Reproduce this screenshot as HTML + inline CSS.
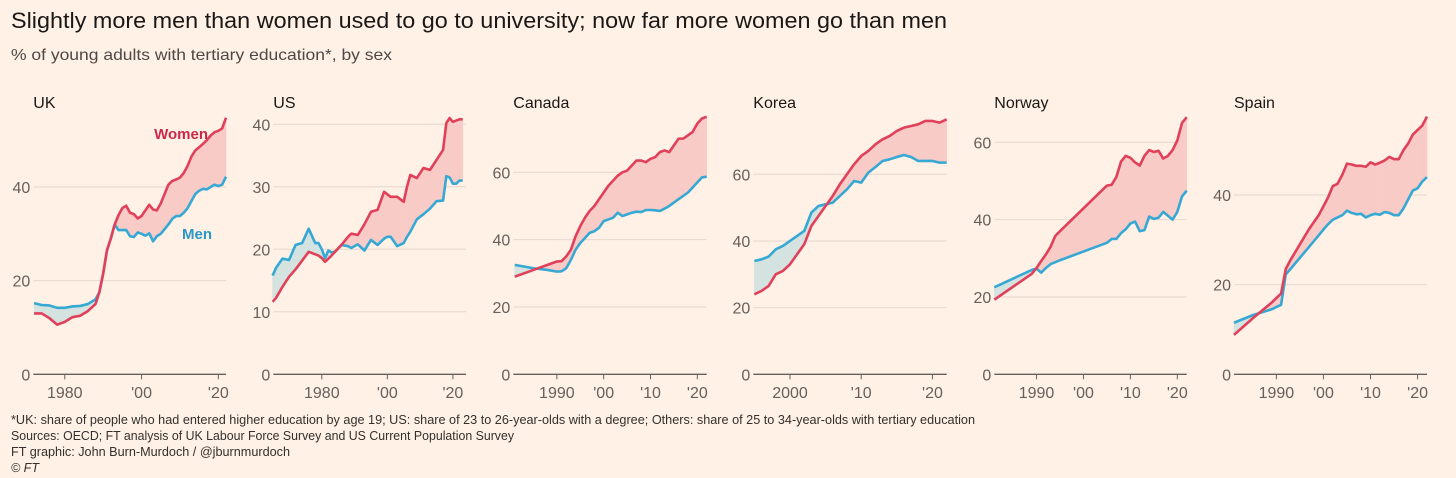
<!DOCTYPE html>
<html><head><meta charset="utf-8"><style>
html,body{margin:0;padding:0;background:#fff1e5;}
svg{display:block;font-family:"Liberation Sans",sans-serif;}
</style></head><body>
<svg id="chart" width="1456" height="478" viewBox="0 0 1456 478" xmlns="http://www.w3.org/2000/svg">
<rect width="1456" height="478" fill="#fff1e5"/>
<text x="11" y="28" font-size="22" fill="#1a1817" textLength="936" lengthAdjust="spacingAndGlyphs">Slightly more men than women used to go to university; now far more women go than men</text>
<text x="11" y="60" font-size="16" fill="#4d4845" textLength="381" lengthAdjust="spacingAndGlyphs">% of young adults with tertiary education*, by sex</text>
<g id="panels"></g>
<g font-size="12.5" fill="#33302e">
<text x="11" y="424" textLength="964" lengthAdjust="spacingAndGlyphs">*UK: share of people who had entered higher education by age 19; US: share of 23 to 26-year-olds with a degree; Others: share of 25 to 34-year-olds with tertiary education</text>
<text x="11" y="440" textLength="503" lengthAdjust="spacingAndGlyphs">Sources: OECD; FT analysis of UK Labour Force Survey and US Current Population Survey</text>
<text x="11" y="456" textLength="279" lengthAdjust="spacingAndGlyphs">FT graphic: John Burn-Murdoch / @jburnmurdoch</text>
<text x="11" y="472" font-style="italic">© FT</text>
</g>
</svg>
<script>
// ---- data ----
const ukYears = [1972,1974,1976,1978,1980,1982,1984,1986,1988,1989,1990,1991,1992,1993,1994,1995,1996,1997,1998,1999,2000,2001,2002,2003,2004,2005,2006,2007,2008,2009,2010,2011,2012,2013,2014,2015,2016,2017,2018,2019,2020,2021,2022];
const ukWomen = [13,13,12,10.6,11.2,12.2,12.5,13.5,15,17.5,21.5,26.5,29,32,34,35.5,36,34.5,34.2,33.3,33.8,35,36.2,35.2,35,36.5,38.5,40.5,41.3,41.6,42,43,44.5,46.5,47.8,48.5,49.2,50,51,51.7,52,52.5,54.8];
const ukMen = [15.2,14.8,14.7,14.2,14.2,14.5,14.6,15,16,17.5,21.5,26.5,29,32,30.8,30.8,30.8,29.5,29.3,30.3,30,29.6,30.1,28.4,29.5,30,31,32,33.2,33.8,33.8,34.5,35.5,37,38.5,39.2,39.6,39.5,40,40.5,40.2,40.5,42.2];

const usYears = [1965,1966,1968,1970,1972,1974,1976,1978,1979,1980,1981,1982,1983,1984,1986,1988,1989,1991,1993,1995,1997,1999,2000,2001,2003,2005,2006,2007,2009,2011,2013,2015,2017,2018,2019,2020,2021,2022,2023];
const usWomen = [11.6,12.2,14,15.6,16.8,18.2,19.6,19.2,19,18.6,18,18.5,19,19.6,20.7,22,22.5,22.3,24,26,26.3,29.2,28.8,28.4,28.4,27.6,30,31.9,31.4,33,32.7,34.3,35.9,40.2,41,40.4,40.6,40.8,40.8];
const usMen = [15.8,17,18.5,18.3,20.7,21,23.3,21,21,20,18.6,19.8,19.5,19.6,20.7,20.5,20.2,20.8,19.8,21.5,20.7,21.7,22,22,20.5,21,22,22.8,24.8,25.6,26.5,27.7,27.8,31.7,31.5,30.5,30.5,31,31];

const caYears = [1981,1985,1988,1990,1991,1992,1993,1994,1995,1996,1997,1998,1999,2000,2001,2002,2003,2004,2005,2006,2007,2008,2009,2010,2011,2012,2013,2014,2015,2016,2017,2018,2019,2020,2021,2022];
const caWomen = [29,31,32.5,33.5,33.6,35,37,41,44,46.5,48.5,50,52,54,56,57.5,59,60,60.5,62,63.5,63.5,63,64,64.5,66,66.5,66,68,70,70,71,72,74.5,76,76.5];
const caMen = [32.5,31.5,31,30.5,30.6,31.5,34,37,39,40.5,42,42.5,43.5,45.5,46,46.5,48,47,47.5,48,48.3,48.2,48.8,48.8,48.7,48.5,49.2,50,51,52,53,54,55.5,57,58.5,58.7];

const krYears = [1995,1996,1997,1998,1999,2000,2001,2002,2003,2004,2005,2006,2007,2008,2009,2010,2011,2012,2013,2014,2015,2016,2017,2018,2019,2020,2021,2022];
const krWomen = [24,25,26.5,30,31,33,36,39,44.5,47.5,50.5,53.5,57,60,63,65.5,67,69,70.5,71.5,73,74,74.5,75,76,76,75.5,76.5];
const krMen = [34,34.5,35.3,37.5,38.5,40,41.5,43,48.5,50.5,51,51.5,53.5,55.5,58,57.5,60.5,62.2,64,64.5,65.2,65.8,65.2,64,64,64,63.5,63.5];

const noYears = [1981,1989,1990,1991,1992,1993,1994,1995,2005,2006,2007,2008,2009,2010,2011,2012,2013,2014,2015,2016,2017,2018,2019,2020,2021,2022];
const noWomen = [19.3,26,27.5,29.3,31,33,35.8,37,48.8,49,51,55,56.5,56,54.8,54,56.5,58,57.5,57.8,55.8,56.5,58,60.5,65,66.5];
const noMen = [22.5,27,27.3,26.3,27.5,28.5,29,29.5,34,35,35,36.5,37.5,39,39.5,37,37.3,40.8,40.2,40.5,42,41,40,42,46,47.5];

const esYears = [1981,1985,1989,1991,1992,1993,1995,1997,1999,2000,2001,2002,2003,2004,2005,2006,2007,2008,2009,2010,2011,2012,2013,2014,2015,2016,2017,2018,2019,2020,2021,2022];
const esWomen = [8.8,12.5,16,18,23.5,25.5,29,32.5,35.5,37.5,39.5,42,42.5,44.5,47,46.8,46.5,46.5,46.3,47.3,46.8,47.2,47.7,48.5,48,48,50,51.5,53.5,54.5,55.5,57.5];
const esMen = [11.5,13.2,14.5,15.5,22.3,23.5,26,28.5,31,32.3,33.5,34.5,35,35.5,36.5,36,35.7,35.8,35,35.5,35.8,35.6,36.2,36,35.5,35.5,37,39,41,41.5,43,44];

const ukTicks = [0,20,40], usTicks = [0,10,20,30,40], caTicks = [0,20,40,60], krTicks = [0,20,40,60], noTicks = [0,20,40,60], esTicks = [0,20,40];
const ukXTicks = [1980,2000,2020], usXTicks = [1980,2000,2020], caXTicks = [1990,2000,2010,2020], krXTicks = [2000,2010,2020], noXTicks = [1990,2000,2010,2020], esXTicks = [1990,2000,2010,2020];
const xTickLabels = {1980:"1980",1990:"1990",2000:"'00",2010:"'10",2020:"'20"};
const krXLabels = {2000:"2000",2010:"'10",2020:"'20"};

const panels = [
 {name:"uk",title:"UK",years:ukYears,w:ukWomen,m:ukMen,yt:ukTicks,xt:ukXTicks,left:33.3,right:226,x0:1971.8,x1:2022,labels:true},
 {name:"us",title:"US",years:usYears,w:usWomen,m:usMen,yt:usTicks,xt:usXTicks,left:273.3,right:466,x0:1965.2,x1:2024},
 {name:"canada",title:"Canada",years:caYears,w:caWomen,m:caMen,yt:caTicks,xt:caXTicks,left:513.3,right:706.7,x0:1980.7,x1:2022},
 {name:"korea",title:"Korea",years:krYears,w:krWomen,m:krMen,yt:krTicks,xt:krXTicks,left:753.3,right:946.7,x0:1994.85,x1:2022,xl:krXLabels},
 {name:"norway",title:"Norway",years:noYears,w:noWomen,m:noMen,yt:noTicks,xt:noXTicks,left:994.3,right:1186.7,x0:1981,x1:2022},
 {name:"spain",title:"Spain",years:esYears,w:esWomen,m:esMen,yt:esTicks,xt:esXTicks,left:1234,right:1427,x0:1981,x1:2022}
];
const topGrid = {uk:[40,187],us:[40,124.3],canada:[60,172.3],korea:[60,174.3],norway:[60,142.3],spain:[40,195]};

const NS="http://www.w3.org/2000/svg";
const root=document.getElementById('panels');
function mk(tag,attrs,parent){const e=document.createElementNS(NS,tag);for(const k in attrs)e.setAttribute(k,attrs[k]);parent.appendChild(e);return e;}
const BASE=374.3;

panels.forEach(p=>{
  const g=mk('g',{},root);
  
  
  const tg=topGrid[p.name];
  const ppu=(BASE-tg[1])/tg[0];
  const X=yr=>p.left+(yr-p.x0)/(p.x1-p.x0)*(p.right-p.left);
  const Y=v=>BASE-v*ppu;
  const t=mk('text',{x:p.left,y:108,'font-size':16,fill:'#1a1817'},g); t.textContent=p.title;
  
  
  p.yt.forEach(v=>{
    if(v>0){const l=mk('line',{x1:p.left,x2:p.right,y1:Y(v),y2:Y(v),stroke:'#e6d8cc','stroke-width':1},g);
      
      }
    const tx=mk('text',{x:p.left-3,y:Y(v)+6,'font-size':16,fill:'#66605c','text-anchor':'end'},g); tx.textContent=v;
    
    
  });
  const ys=p.years, w=p.w, m=p.m;
  for(let i=0;i<ys.length-1;i++){
    const d0=w[i]-m[i], d1=w[i+1]-m[i+1];
    const segs=[];
    if(d0*d1<0){
      const f=d0/(d0-d1); const yr=ys[i]+f*(ys[i+1]-ys[i]); const v=w[i]+f*(w[i+1]-w[i]);
      segs.push([[ys[i],w[i],m[i]],[yr,v,v],d0]); segs.push([[yr,v,v],[ys[i+1],w[i+1],m[i+1]],d1]);
    } else segs.push([[ys[i],w[i],m[i]],[ys[i+1],w[i+1],m[i+1]],d0+d1]);
    segs.forEach(s=>{
      if(s[2]===0) return;
      const a=s[0],b=s[1];
      const pts=[[X(a[0]),Y(a[1])],[X(b[0]),Y(b[1])],[X(b[0]),Y(b[2])],[X(a[0]),Y(a[2])]].map(q=>q.join(',')).join(' ');
      const pg=mk('polygon',{points:pts,fill:s[2]>0?'#f9cbc6':'#d4e3df',stroke:s[2]>0?'#f9cbc6':'#d4e3df','stroke-width':0.6},g);
      
      
    });
  }
  const bl=mk('line',{x1:p.left,x2:p.right,y1:BASE,y2:BASE,stroke:'#66605c','stroke-width':1.3},g);
  
  
  p.xt.forEach(yr=>{
    const tk=mk('line',{x1:X(yr),x2:X(yr),y1:BASE,y2:BASE+5,stroke:'#66605c','stroke-width':1},g);
    
    
    const lb=mk('text',{x:X(yr),y:398,'font-size':16,fill:'#66605c','text-anchor':'middle'},g);
    lb.textContent=(p.xl||xTickLabels)[yr];
    
    
  });
  const line=(vals,col,nm)=>{
    const d=ys.map((yr,i)=>(i?'L':'M')+X(yr).toFixed(2)+','+Y(vals[i]).toFixed(2)).join('');
    const pa=mk('path',{d:d,fill:'none',stroke:col,'stroke-width':2.6,'stroke-linejoin':'round'},g);
    
    
  };
  line(m,'#36a8d4','-men-line');
  line(w,'#e1405a','-women-line');
  if(p.labels){
    const lw=mk('text',{x:208,y:139,'font-size':15,'font-weight':'bold',fill:'#cc2848','text-anchor':'end'},g); lw.textContent='Women';
    
    
    const lm=mk('text',{x:212,y:239,'font-size':15,'font-weight':'bold',fill:'#2b97c6','text-anchor':'end'},g); lm.textContent='Men';
    
    
  }
});
</script>
</body></html>
